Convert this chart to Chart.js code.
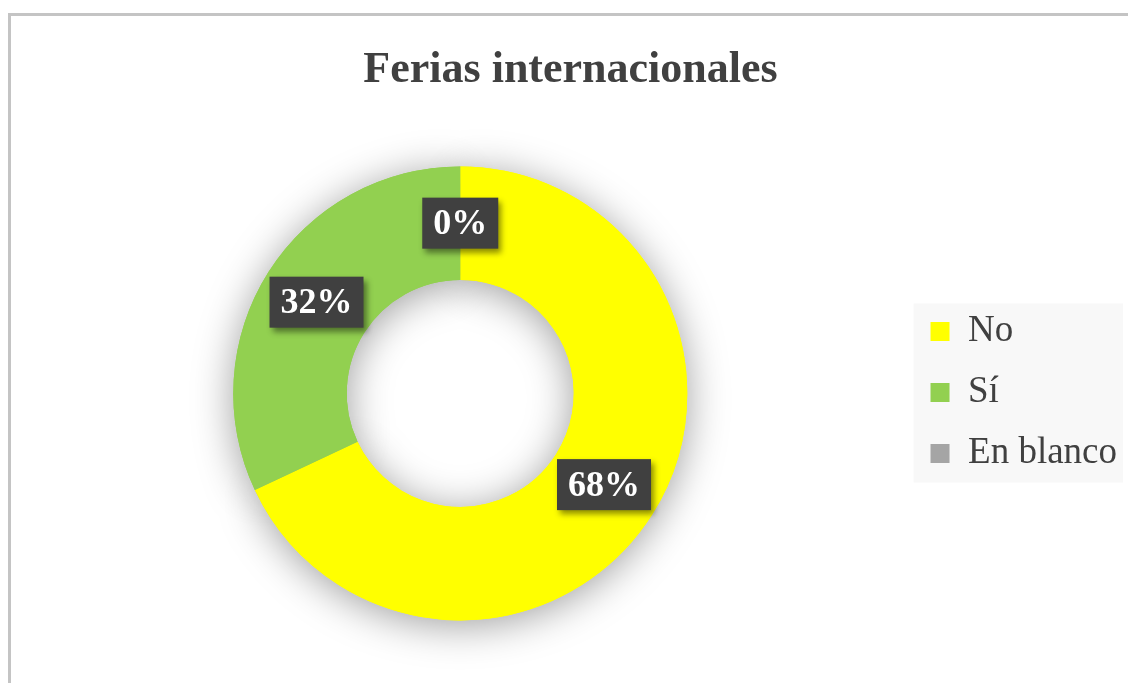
<!DOCTYPE html>
<html>
<head>
<meta charset="utf-8">
<script src="https://cdn.jsdelivr.net/npm/chart.js@4/dist/chart.umd.min.js"></script>
<style>
  html, body { margin: 0; padding: 0; width: 1128px; height: 683px; overflow: hidden; background: #fff; }
  #marco { position: absolute; left: 8px; top: 13px; width: 2000px; height: 2000px;
           border-top: 3px solid #c4c4c4; border-left: 3px solid #c4c4c4; }
  #contenedor { position: absolute; left: 11px; top: 15px; width: 1128px; height: 675px; }
</style>
</head>
<body>
<div id="marco"></div>
<div id="contenedor"><canvas id="grafico_ferias"></canvas></div>
<script>
// DATOS DEL GRAFICO
const categorias = ['No', 'Sí', 'En blanco'];
const porcentajes = [68, 32, 0];
const colores = ['#FFFF00', '#92D050', '#A5A5A5'];
const titulo = 'Ferias internacionales';

const fuente = "'Liberation Serif', 'Times New Roman', serif";

// sombra suave debajo del anillo (dibujada una sola vez)
const sombraAnillo = {
    id: 'sombraAnillo',
    beforeDatasetsDraw(chart) {
        const ctx = chart.ctx;
        ctx.save();
        ctx.shadowColor = 'rgba(0,0,0,0.38)';
        ctx.shadowBlur = 40;
        ctx.shadowOffsetY = 5;
        chart.getDatasetMeta(0).data.forEach(el => el.draw(ctx));
        ctx.restore();
    }
};

// fondo gris claro de la leyenda
const fondoLeyenda = {
    id: 'fondoLeyenda',
    beforeDraw(chart) {
        const lg = chart.legend;
        if (!lg) return;
        const ctx = chart.ctx;
        const cy = (lg.top + lg.bottom) / 2 + 40; // desplazado por el titulo vacio
        ctx.save();
        ctx.fillStyle = '#f8f8f8';
        ctx.fillRect(lg.left + 7, cy - 89, lg.right - lg.left - 11, 179);
        ctx.restore();
    }
};

// etiquetas de porcentaje en cajas oscuras
const etiquetas = {
    id: 'etiquetas',
    afterDatasetsDraw(chart) {
        const ctx = chart.ctx;
        ctx.save();
        ctx.font = "bold 36px " + fuente;
        ctx.textAlign = 'center';
        ctx.textBaseline = 'middle';
        chart.getDatasetMeta(0).data.forEach((el, i) => {
            const pos = el.tooltipPosition();
            const texto = porcentajes[i] + '%';
            const w = ctx.measureText(texto).width + 22;
            const h = 51;
            ctx.save();
            ctx.shadowColor = 'rgba(0,0,0,0.45)';
            ctx.shadowBlur = 6;
            ctx.shadowOffsetX = 3;
            ctx.shadowOffsetY = 4;
            ctx.fillStyle = '#404040';
            ctx.fillRect(pos.x - w / 2, pos.y - h / 2, w, h);
            ctx.restore();
            ctx.fillStyle = '#ffffff';
            ctx.fillText(texto, pos.x, pos.y + 2);
        });
        ctx.restore();
    }
};

const grafico = document.getElementById('grafico_ferias');

new Chart(grafico, {
    type: 'doughnut',
    data: {
        labels: categorias,
        datasets: [{
            data: porcentajes,
            backgroundColor: colores,
            borderWidth: 0,
        }]
    },
    options: {
        responsive: true,
        maintainAspectRatio: false,
        animation: false,
        radius: 227,
        cutout: '50%',
        layout: {
            padding: { left: 3, right: 12, top: 0, bottom: 0 }
        },
        plugins: {
            title: {
                display: true,
                text: titulo,
                color: '#404040',
                font: { family: fuente, size: 44, weight: 'bold', lineHeight: 1.2 },
                padding: { top: 29, bottom: 0 },
            },
            legend: {
                position: 'right',
                title: {
                    // titulo vacio para bajar los elementos de la leyenda
                    display: true,
                    text: '',
                    font: { size: 1, lineHeight: 1 },
                    padding: { top: 79, bottom: 0 },
                },
                labels: {
                    color: '#404040',
                    font: { family: fuente, size: 37 },
                    boxWidth: 19,
                    boxHeight: 19,
                    padding: 24,
                }
            },
            tooltip: { enabled: false },
        }
    },
    plugins: [fondoLeyenda, sombraAnillo, etiquetas]
});
</script>
</body>
</html>
